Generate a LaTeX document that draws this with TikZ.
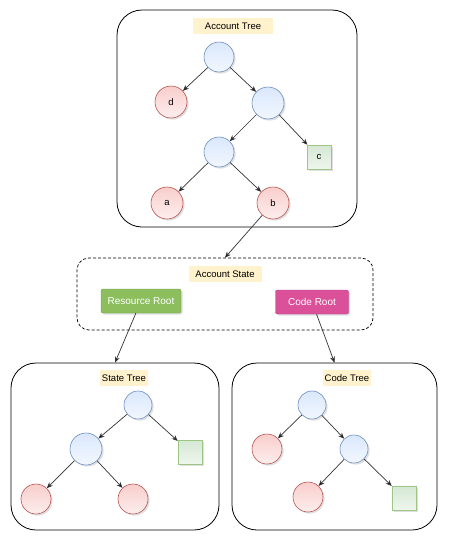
\documentclass[tikz,border=0pt]{standalone}
\usepackage{fontspec}
\setmainfont{Liberation Sans}
\usetikzlibrary{shadows,arrows.meta}
\definecolor{bluefill}{HTML}{DAE8FC}
\definecolor{bluedraw}{HTML}{6C8EBF}
\definecolor{redfill}{HTML}{F8CECC}
\definecolor{reddraw}{HTML}{B85450}
\definecolor{greenfill}{HTML}{D5E8D4}
\definecolor{greendraw}{HTML}{9CC586}
\definecolor{labelfill}{HTML}{FFF2CC}
\definecolor{resfill}{HTML}{8CBE5E}
\definecolor{resdraw}{HTML}{6F9B45}
\definecolor{codefill}{HTML}{DA519A}
\definecolor{codedraw}{HTML}{B83B7C}
\definecolor{arrowgray}{HTML}{333333}
\begin{document}
\begin{tikzpicture}[x=1pt, y=-1pt, font=\fontsize{9.5}{11}\selectfont]
  \tikzstyle{box}=[draw, rounded corners=25pt, line width=0.8pt]
  \tikzstyle{title}=[fill=labelfill, inner sep=0pt, minimum height=16pt, minimum width=80pt]
  \tikzstyle{shade}=[drop shadow={shadow xshift=1.6pt, shadow yshift=-1.6pt, opacity=0.25}]
  \tikzstyle{inner}=[circle, draw=bluedraw, line width=0.6pt, shade, top color=bluefill, bottom color=bluefill!35!white, inner sep=0pt]
  \tikzstyle{leaf}=[circle, draw=reddraw, line width=0.6pt, shade, top color=redfill, bottom color=redfill!35!white, inner sep=0pt]
  \tikzstyle{code}=[rectangle, draw=greendraw, line width=0.6pt, shade, top color=greenfill, bottom color=greenfill!40!white, minimum size=24pt, inner sep=0pt]
  \tikzstyle{root}=[rectangle, rounded corners=2pt, text=white, shade, minimum height=24pt, inner sep=0pt, font=\fontsize{10}{12}\selectfont]
  \tikzstyle{arr}=[draw=arrowgray, line width=0.7pt, -{Stealth[length=6pt, width=5pt]}]

  \useasboundingbox (0,0) rectangle (448,541);

  % account tree
  \node[box, minimum width=240pt, minimum height=217pt] (atree) at (237,118.5) {};
  \node[title, minimum width=80pt] (atitle) at (233,26) {Account Tree};
  \node[inner, minimum size=30pt] (a1) at (219,57)  {};
  \node[leaf,  minimum size=32pt] (d)  at (171,102) {d};
  \node[inner, minimum size=32pt] (a2) at (268,103) {};
  \node[inner, minimum size=30pt] (a3) at (219,152) {};
  \node[code]                     (c)  at (319,157) {c};
  \node[leaf,  minimum size=32pt] (a)  at (167,203) {a};
  \node[leaf,  minimum size=32pt] (b)  at (273,203) {b};

  % account state
  \node[draw, rounded corners=12pt, dash pattern=on 3pt off 2pt, line width=0.7pt,
        minimum width=296pt, minimum height=72pt] (state) at (225,294) {};
  \node[title, minimum width=73pt] (stitle) at (225,274) {Account State};
  \node[root, fill=resfill, draw=resdraw, minimum width=80pt] (rroot) at (141,301) {Resource Root};
  \node[root, fill=codefill, draw=codedraw, minimum width=73pt] (croot) at (312,302) {Code Root};

  % state tree
  \node[box, minimum width=208pt, minimum height=167pt] (stree) at (115,446.5) {};
  \node[title, minimum width=48pt] (sttitle) at (124,378) {State Tree};
  \node[inner, minimum size=28pt] (s1) at (138,405) {};
  \node[inner, minimum size=32pt] (s2) at (86,449)  {};
  \node[code]                     (s3) at (190,452) {};
  \node[leaf,  minimum size=30pt] (s4) at (36,499)  {};
  \node[leaf,  minimum size=30pt] (s5) at (133,499) {};

  % code tree
  \node[box, minimum width=205pt, minimum height=167pt] (ctree) at (334.5,446.5) {};
  \node[title, minimum width=48pt] (cttitle) at (347,378) {Code Tree};
  \node[inner, minimum size=28pt] (c1) at (312,405) {};
  \node[leaf,  minimum size=30pt] (c2) at (267,449) {};
  \node[inner, minimum size=28pt] (c3) at (354,449) {};
  \node[leaf,  minimum size=30pt] (c4) at (308,497) {};
  \node[code]                     (c5) at (404,498) {};

  \path[arr] (a1) edge (d);
  \path[arr] (a1) edge (a2);
  \path[arr] (a2) edge (a3);
  \path[arr] (a2) edge (c);
  \path[arr] (a3) edge (a);
  \path[arr] (a3) edge (b);
  \path[arr] (b) edge (state.north);
  \path[arr] (rroot) edge (stree.north);
  \path[arr] (croot) edge (ctree.north);
  \path[arr] (s1) edge (s2);
  \path[arr] (s1) edge (s3);
  \path[arr] (s2) edge (s4);
  \path[arr] (s2) edge (s5);
  \path[arr] (c1) edge (c2);
  \path[arr] (c1) edge (c3);
  \path[arr] (c3) edge (c4);
  \path[arr] (c3) edge (c5);
\end{tikzpicture}
\end{document}
